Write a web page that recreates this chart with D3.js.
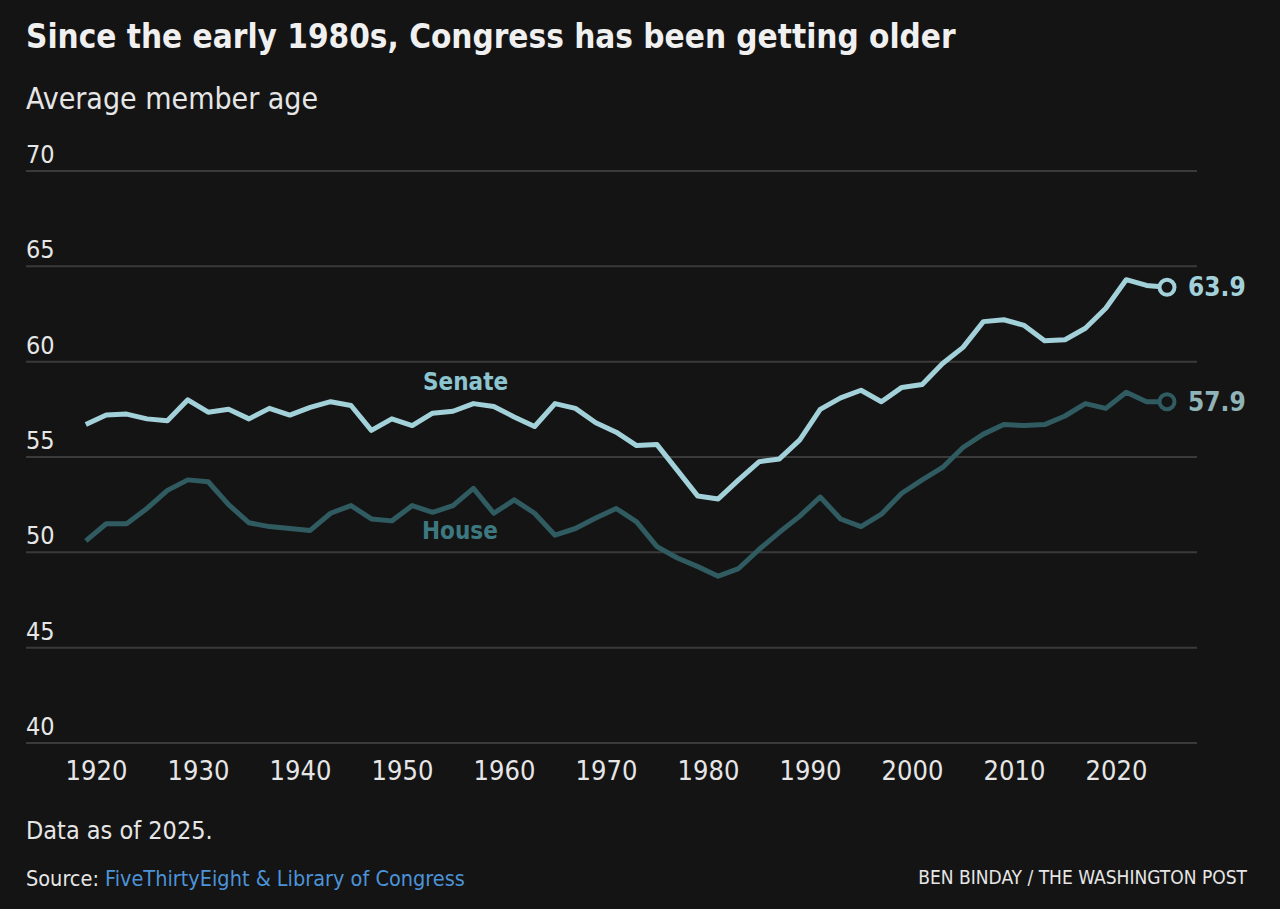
<!DOCTYPE html>
<html>
<head>
<meta charset="utf-8">
<script src="https://cdn.jsdelivr.net/npm/d3@7"></script>
<style>
  html, body { margin: 0; padding: 0; background: #141414; }
  svg { display: block; }
  text { font-family: "Liberation Sans Narrow", "DejaVu Sans Condensed", "Roboto", sans-serif; }
</style>
</head>
<body>
<svg width="1280" height="909"></svg>
<script>
/////////////////////////////////
// Average age of Congress members, Senate vs House.
//

// Congress start years (every two years, 1919 to 2025).
const years = d3.range(1919, 2026, 2);

const senateAge = [
    56.7, 57.2, 57.25, 57.0, 56.9, 58.0, 57.35, 57.5, 57.0, 57.55,
    57.2, 57.6, 57.9, 57.7, 56.4, 57.0, 56.65, 57.3, 57.4, 57.8,
    57.65, 57.1, 56.6, 57.8, 57.55, 56.8, 56.3, 55.6, 55.65, 54.3,
    52.95, 52.8, 53.8, 54.75, 54.9, 55.9, 57.5, 58.1, 58.5, 57.9,
    58.65, 58.8, 59.9, 60.75, 62.1, 62.2, 61.9, 61.1, 61.15, 61.75,
    62.8, 64.3, 64.0, 63.9
];

const houseAge = [
    50.6, 51.5, 51.5, 52.3, 53.25, 53.8, 53.7, 52.5, 51.55, 51.35,
    51.25, 51.15, 52.05, 52.45, 51.75, 51.65, 52.45, 52.1, 52.45, 53.35,
    52.05, 52.75, 52.05, 50.9, 51.25, 51.8, 52.3, 51.6, 50.3, 49.7,
    49.25, 48.75, 49.15, 50.15, 51.05, 51.9, 52.9, 51.75, 51.35, 52.0,
    53.1, 53.8, 54.45, 55.5, 56.2, 56.7, 56.65, 56.7, 57.15, 57.8,
    57.55, 58.4, 57.9, 57.9
];

const yTicks = [40, 45, 50, 55, 60, 65, 70];
const xTicks = [1920, 1930, 1940, 1950, 1960, 1970, 1980, 1990, 2000, 2010, 2020];

const seriesNames = ["Senate", "House"];
const endLabels = ["63.9", "57.9"];

document.addEventListener("DOMContentLoaded", () => {

    const svg = d3.select("svg");

    const bg = "#141414";
    const senateColor = "#a3d1da";
    const houseColor = "#2f5b61";

    // Scales: 1920 -> 96px, 2020 -> 1116px, 40 -> 743px, 70 -> 171px.
    const x = d3.scaleLinear().domain([1920, 2020]).range([96, 1116]);
    const y = d3.scaleLinear().domain([40, 70]).range([743, 171]);

    const gridLeft = 26;
    const gridRight = 1197;

    // Title & subtitle.
    svg.append("text")
        .attr("x", 26)
        .attr("y", 48)
        .attr("font-size", 33)
        .attr("font-weight", "bold")
        .attr("fill", "#f0f0f0")
        .text("Since the early 1980s, Congress has been getting older");

    svg.append("text")
        .attr("x", 26)
        .attr("y", 109)
        .attr("font-size", 30)
        .attr("fill", "#e6e6e6")
        .text("Average member age");

    // Y grid + labels.
    const yAxis = svg.append("g");
    yAxis.selectAll("line")
        .data(yTicks)
        .enter()
        .append("line")
        .attr("x1", gridLeft)
        .attr("x2", gridRight)
        .attr("y1", (d) => y(d))
        .attr("y2", (d) => y(d))
        .attr("stroke", "#3a3a3a")
        .attr("stroke-width", 2);

    yAxis.selectAll("text")
        .data(yTicks)
        .enter()
        .append("text")
        .attr("x", gridLeft)
        .attr("y", (d) => y(d) - 8)
        .attr("font-size", 25)
        .attr("fill", "#e6e6e6")
        .text((d) => d);

    // X axis labels.
    const xAxis = svg.append("g")
        .attr("transform", "translate(0,780)")
        .call(d3.axisBottom(x).tickValues(xTicks).tickFormat(d3.format("d")).tickSize(0));
    xAxis.select(".domain").remove();
    xAxis.selectAll("text")
        .attr("font-size", 27)
        .attr("fill", "#e6e6e6")
        .attr("dy", "0")
        .attr("y", 0)
        .style("font-family", "\"Liberation Sans Narrow\", \"DejaVu Sans Condensed\", sans-serif");

    // Lines.
    const line = d3.line()
        .x((d, i) => x(years[i]))
        .y((d) => y(d));

    const series = [
        { name: seriesNames[0], values: senateAge, color: senateColor, label: endLabels[0], labelColor: "#a3d1da" },
        { name: seriesNames[1], values: houseAge, color: houseColor, label: endLabels[1], labelColor: "#8fb3b7" }
    ];

    series.slice().reverse().forEach((s) => {

        svg.append("path")
            .datum(s.values)
            .attr("d", line)
            .attr("fill", "none")
            .attr("stroke", s.color)
            .attr("stroke-width", 5)
            .attr("stroke-linejoin", "round");

        const last = s.values.length - 1;
        svg.append("circle")
            .attr("cx", x(years[last]))
            .attr("cy", y(s.values[last]))
            .attr("r", 7.5)
            .attr("fill", bg)
            .attr("stroke", s.color)
            .attr("stroke-width", 4);

        svg.append("text")
            .attr("x", x(years[last]) + 21)
            .attr("y", y(s.values[last]) + 9)
            .attr("font-size", 26)
            .attr("font-weight", "bold")
            .attr("fill", s.labelColor)
            .text(s.label);
    });

    // Series labels.
    svg.append("text")
        .attr("x", 423)
        .attr("y", 390)
        .attr("font-size", 24)
        .attr("font-weight", "bold")
        .attr("fill", "#8cc5d0")
        .text(seriesNames[0]);

    svg.append("text")
        .attr("x", 422)
        .attr("y", 539)
        .attr("font-size", 24)
        .attr("font-weight", "bold")
        .attr("fill", "#3d7880")
        .text(seriesNames[1]);

    // Footer.
    svg.append("text")
        .attr("x", 26)
        .attr("y", 839)
        .attr("font-size", 25)
        .attr("fill", "#e6e6e6")
        .text("Data as of 2025.");

    const source = svg.append("text")
        .attr("x", 26)
        .attr("y", 886)
        .attr("font-size", 21.5)
        .attr("fill", "#e6e6e6");
    source.append("tspan").text("Source: ");
    source.append("tspan").attr("fill", "#4c93d8").text("FiveThirtyEight & Library of Congress");

    svg.append("text")
        .attr("x", 1247)
        .attr("y", 884)
        .attr("text-anchor", "end")
        .attr("font-size", 19)
        .attr("fill", "#e6e6e6")
        .text("BEN BINDAY / THE WASHINGTON POST");
});
</script>
</body>
</html>
